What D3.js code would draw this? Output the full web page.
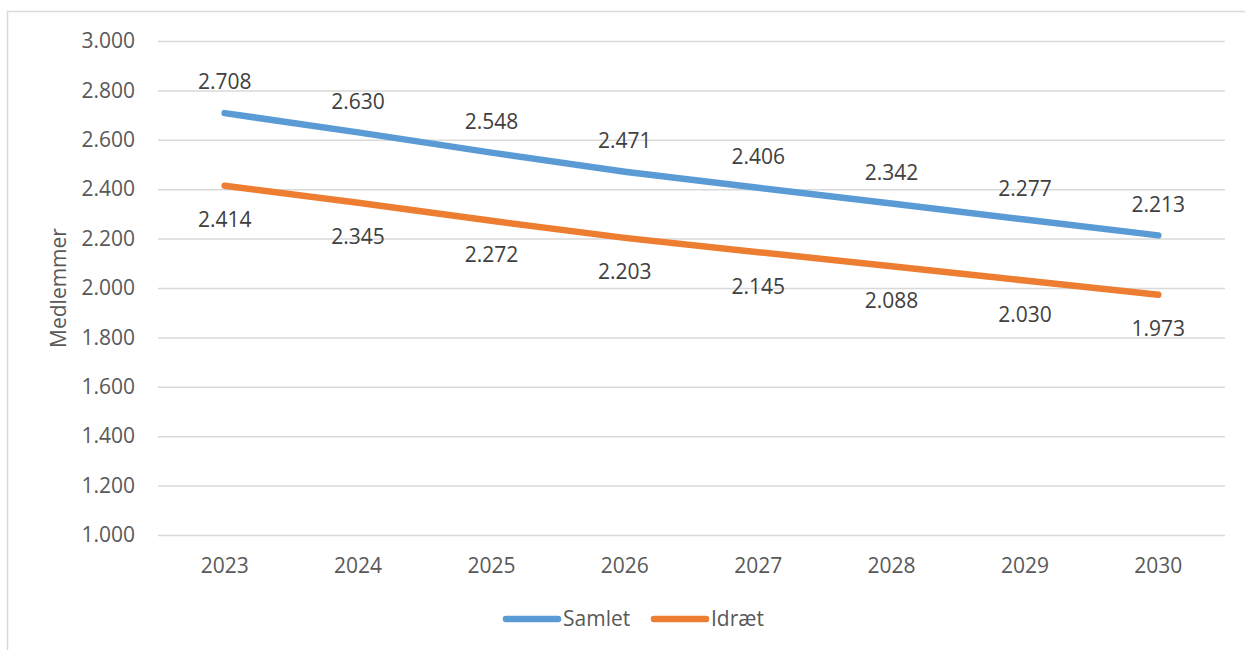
<!DOCTYPE html>
<html><head><meta charset="utf-8">
<script src="https://cdn.jsdelivr.net/npm/d3@7"></script>
<style>body{margin:0;background:#fff}svg{display:block}</style>
</head><body><svg id="c" width="1245" height="650"></svg>
<script>
const years = ["2023","2024","2025","2026","2027","2028","2029","2030"];
const samlet = [2708,2630,2548,2471,2406,2342,2277,2213];
const idraet = [2414,2345,2272,2203,2145,2088,2030,1973];
const yTicks = [1000,1200,1400,1600,1800,2000,2200,2400,2600,2800,3000];
const seriesNames = ["Samlet","Idræt"];
const colors = ["#5B9BD5","#ED7D31"];

const svg = d3.select("#c");
const font = "'Open Sans', sans-serif";
const txt = "#595959";
const m = {l:158, r:1225, t:41, b:535};

svg.append("rect").attr("x",7.5).attr("y",11.5).attr("width",1400).attr("height",800)
  .attr("fill","none").attr("stroke","#d9d9d9").attr("stroke-width",1.5);

const x = d3.scaleBand().domain(years).range([m.l,m.r]);
const y = d3.scaleLinear().domain([1000,3000]).range([m.b,m.t]);

const yAxis = svg.append("g").attr("transform",`translate(${m.l},0)`)
  .call(d3.axisLeft(y).tickValues(yTicks).tickSize(-(m.r-m.l)).tickPadding(23)
    .tickFormat(d => d3.format(",.0f")(d).replace(/,/g,".")));
yAxis.select(".domain").remove();
yAxis.selectAll("line").attr("stroke","#d9d9d9").attr("stroke-width",1.5);
yAxis.selectAll("text").attr("fill",txt).style("font-family",font).style("font-size","21px");

const xAxis = svg.append("g").attr("transform",`translate(0,${m.b})`)
  .call(d3.axisBottom(x).tickSize(0).tickPadding(23));
xAxis.select(".domain").remove();
xAxis.selectAll("text").attr("fill",txt).style("font-family",font).style("font-size","21px");

svg.append("text").attr("transform","translate(66,288) rotate(-90)")
  .attr("text-anchor","middle").attr("fill",txt)
  .style("font-family",font).style("font-size","21px").text("Medlemmer");

const cx = d => x(d) + x.bandwidth()/2;
const line = d3.line().x((d,i)=>cx(years[i])).y(d=>y(d));
[samlet, idraet].forEach((s,k)=>{
  svg.append("path").datum(s).attr("d",line).attr("fill","none")
    .attr("stroke",colors[k]).attr("stroke-width",6.5).attr("stroke-linecap","round").attr("stroke-linejoin","round");
  svg.append("g").selectAll("text").data(s).join("text")
    .attr("x",(d,i)=>cx(years[i]))
    .attr("y",d=> k===0 ? y(d)-31 : y(d)+34)
    .attr("dy","0.35em").attr("text-anchor","middle").attr("fill","#404040")
    .style("font-family",font).style("font-size","21px")
    .text(d=>d3.format(",.0f")(d).replace(/,/g,"."));
});

const leg = [{x:504, name:seriesNames[0], c:colors[0]},{x:652, name:seriesNames[1], c:colors[1]}];
leg.forEach(l=>{
  svg.append("line").attr("x1",l.x+2).attr("x2",l.x+54).attr("y1",619).attr("y2",619)
    .attr("stroke",l.c).attr("stroke-width",6.5).attr("stroke-linecap","round");
  svg.append("text").attr("x",l.x+59).attr("y",619).attr("dy","0.35em").attr("fill",txt)
    .style("font-family",font).style("font-size","21px").text(l.name);
});
</script></body></html>
